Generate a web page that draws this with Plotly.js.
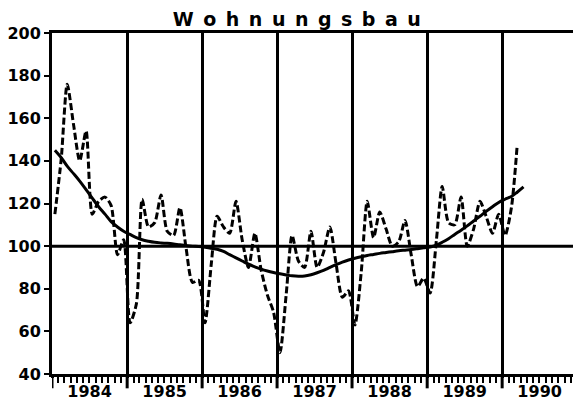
<!DOCTYPE html>
<html>
<head>
<meta charset="utf-8">
<script src="https://cdn.plot.ly/plotly-3.0.1.min.js"></script>
<style>html,body{margin:0;padding:0;background:#fff;}#chart{width:573px;height:400px;}</style>
</head>
<body>
<div id="chart"></div>
<script>
// Monthly index values, Jan 1984 .. Mar 1990
const years = [1984, 1985, 1986, 1987, 1988, 1989, 1990];
const wohnungsbau = [
  115, 141, 176, 157, 140, 154, 115, 121, 123, 119, 96, 103,   // 1984
  64, 73, 122, 109, 111, 124, 107, 105, 118, 99, 83, 84,       // 1985
  64, 92, 114, 109, 106, 121, 103, 90, 106, 89, 77, 69,        // 1986
  50, 78, 105, 93, 90, 107, 90, 97, 109, 92, 76, 79,           // 1987
  63, 88, 121, 104, 116, 108, 100, 102, 112, 96, 81, 85,       // 1988
  78, 103, 128, 111, 110, 123, 100, 108, 121, 114, 106, 115,   // 1989
  105, 118, 147                                                // 1990
];
// Smooth trend, Jan 1984 .. Apr 1990
const trend = [
  145, 141.5, 137.5, 134, 130.5, 126.5, 122.5, 118.5, 115, 111.5, 109, 107,
  105.5, 104, 103, 102.3, 101.8, 101.5, 101.3, 101, 100.6, 100.3, 100, 99.8,
  99.5, 99, 98.5, 97.5, 96, 94.5, 93, 91.5, 90.3, 89.2, 88.3, 87.6,
  87, 86.5, 86.1, 85.9, 86, 86.6, 87.5, 88.6, 90, 91.3, 92.5, 93.5,
  94.3, 95, 95.6, 96.1, 96.6, 97, 97.4, 97.8, 98.1, 98.4, 98.8, 99.2,
  99.6, 100.5, 101.8, 103.5, 105.5, 107.5, 109.5, 111.8, 114, 116.3, 118.5, 120.5,
  122, 123.3, 125.3, 127.8
];
const baseline = 100;
const yTicks = [40, 60, 80, 100, 120, 140, 160, 180, 200];

function monthDates(n) {
  const out = [];
  for (let i = 0; i < n; i++) {
    const y = years[0] + Math.floor(i / 12);
    const m = (i % 12) + 1;
    out.push(y + '-' + String(m).padStart(2, '0') + '-15');
  }
  return out;
}

const font = "DejaVu Sans, sans-serif";
const traces = [
  {
    x: monthDates(wohnungsbau.length), y: wohnungsbau, type: 'scatter', mode: 'lines',
    line: {color: '#000', width: 3, dash: '7px,3px', shape: 'spline', smoothing: 0.7},
    hoverinfo: 'skip'
  },
  {
    x: monthDates(trend.length), y: trend, type: 'scatter', mode: 'lines',
    line: {color: '#000', width: 3, shape: 'spline', smoothing: 1},
    hoverinfo: 'skip'
  }
];

// long ticks at the year boundaries, below the x axis
const yearTicks = years.map(y => ({
  type: 'line', xref: 'x', yref: 'paper',
  x0: y + '-01-01', x1: y + '-01-01', y0: -0.042, y1: 0,
  line: {color: '#000', width: 3}
}));

const layout = {
  width: 573, height: 400,
  margin: {l: 52, r: 0, t: 33, b: 26, pad: 0},
  paper_bgcolor: '#fff', plot_bgcolor: '#fff',
  showlegend: false,
  title: {
    text: 'W\u2002o\u2002h\u2002n\u2002u\u2002n\u2002g\u2002s\u2002b\u2002a\u2002u',
    font: {family: font, size: 19, color: '#000', weight: 'bold'},
    x: 0.518, xref: 'container', xanchor: 'center',
    y: 0.952, yref: 'container', yanchor: 'middle'
  },
  xaxis: {
    type: 'date',
    range: ['1984-01-01', '1990-12-12'],
    tick0: '1984-01-01', dtick: 'M12',
    ticklabelmode: 'period', tickformat: '%Y',
    ticks: 'outside', ticklen: 1, tickwidth: 3, tickcolor: '#000',
    showgrid: true, gridcolor: '#000', gridwidth: 3,
    showline: true, linecolor: '#000', linewidth: 3, mirror: true,
    zeroline: false,
    tickfont: {family: font, size: 16, color: '#000', weight: 'bold'},
    minor: {dtick: 'M1', tick0: '1984-01-01', ticks: 'outside', ticklen: 6, tickwidth: 2, tickcolor: '#000', showgrid: false},
    fixedrange: true
  },
  yaxis: {
    range: [40, 200], tickvals: yTicks,
    ticks: 'outside', ticklen: 5, tickwidth: 2, tickcolor: '#000',
    showgrid: false, zeroline: false,
    showline: true, linecolor: '#000', linewidth: 3,
    tickfont: {family: font, size: 16, color: '#000', weight: 'bold'},
    fixedrange: true
  },
  shapes: [
    {type: 'line', xref: 'paper', yref: 'y', x0: 0, x1: 1, y0: baseline, y1: baseline,
     line: {color: '#000', width: 3}}
  ].concat(yearTicks)
};

Plotly.newPlot('chart', traces, layout, {staticPlot: true, displayModeBar: false});
</script>
</body>
</html>
